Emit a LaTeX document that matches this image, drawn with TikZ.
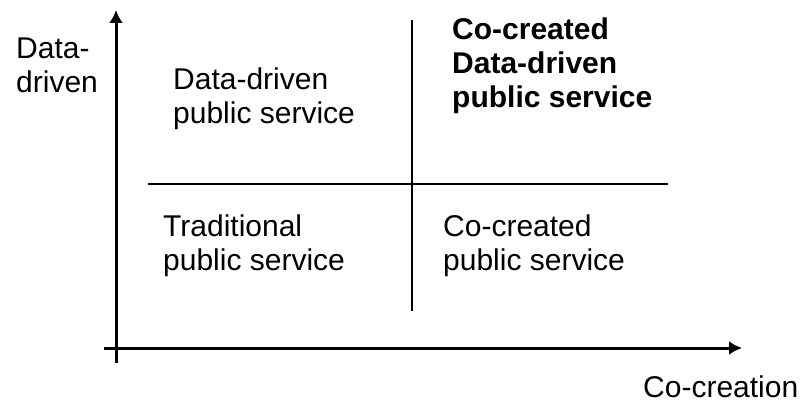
\documentclass[tikz,border=0pt]{standalone}
\usepackage{fontspec}
\setmainfont{Liberation Sans}
\usetikzlibrary{arrows.meta, positioning}

\begin{document}
\begin{tikzpicture}[x=1pt, y=-1pt,
	lbl/.style={anchor=north west, inner sep=0pt, align=left, font=\fontsize{30}{34}\selectfont},
	axis/.style={line width=3pt, -{Latex[length=13pt,width=14pt]}},
	split/.style={line width=1.5pt}]
	\useasboundingbox (0,0) rectangle (802,404);

	\coordinate (ybot) at (116,363);
	\coordinate (ytop) at (116,10);
	\coordinate (xleft) at (104,348);
	\coordinate (xright) at (742,348);
	\coordinate (vtop) at (412,20);
	\coordinate (vbot) at (412,311);
	\coordinate (hleft) at (148,184);
	\coordinate (hright) at (668,184);

	\node[lbl] (ylab) at (16,38) {Data-\\driven};
	\node[lbl, anchor=base west, text depth=0pt] (xlab) at (643,397) {Co-creation};
	\node[lbl] (q1) at (173,68) {Data-driven\\public service};
	\node[lbl, font=\fontsize{30}{34}\selectfont\bfseries] (q2) at (452,18) {Co-created\\Data-driven\\public service};
	\node[lbl] (q3) at (163,215) {Traditional\\public service};
	\node[lbl] (q4) at (443,215) {Co-created\\public service};

	\draw[axis] (ybot) -- (ytop);
	\draw[axis] (xleft) -- (xright);
	\draw[split] (vtop) -- (vbot);
	\draw[split] (hleft) -- (hright);
\end{tikzpicture}
\end{document}
